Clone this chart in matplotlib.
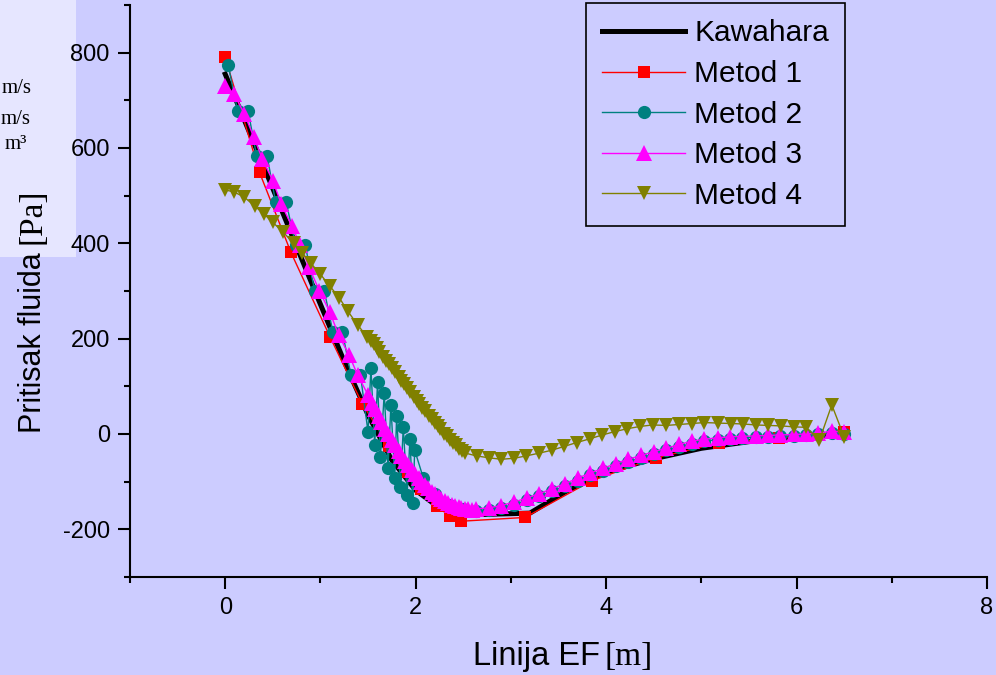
"""Pressure along line EF: Kawahara vs. four methods."""

import matplotlib
matplotlib.use("Agg")
import matplotlib.pyplot as plt
from matplotlib.patches import Rectangle
from matplotlib.ticker import MultipleLocator

plt.rcParams["axes.unicode_minus"] = False

BG = "#ccccff"
SANS = "Liberation Sans"
SERIF = "Liberation Serif"

# Kawahara reference solution
kaw_x = [0.0, 0.25, 0.5, 0.75, 1.0, 1.25, 1.5, 1.75, 2.0, 2.25, 2.5, 3.2,
         3.6, 4.0, 4.5, 5.0, 5.5, 6.0, 6.5]
kaw_y = [755, 635, 515, 393, 272, 152, 40, -55, -118, -155, -170, -166,
         -118, -80, -52, -30, -16, -7, 0]

# Metod 1
m1_x = [0.00, 0.36, 0.69, 1.10, 1.44, 1.72, 1.92, 2.06, 2.22, 2.36, 2.48,
        3.15, 3.85, 4.52, 5.19, 5.82, 6.50]
m1_y = [790, 549, 381, 204, 63, -25, -80, -115, -152, -172, -183,
        -175, -98, -50, -19, -8, 5]

# Metod 2
m2_x = [0.03, 0.13, 0.24, 0.33, 0.44, 0.53, 0.64, 0.74, 0.84, 0.94, 1.04,
        1.13, 1.23, 1.32, 1.42,
        1.50, 1.53, 1.57, 1.60, 1.63, 1.67, 1.71, 1.74, 1.78, 1.80, 1.84,
        1.87, 1.91, 1.94, 1.97, 1.99,
        2.08, 2.20, 2.35, 2.50,
        2.63, 2.77, 2.90, 3.03, 3.17, 3.30, 3.43, 3.57, 3.70, 3.83, 3.97,
        4.10, 4.23, 4.37, 4.50, 4.63, 4.77, 4.90, 5.03, 5.17, 5.30, 5.43,
        5.57, 5.70, 5.83, 5.97, 6.10, 6.23, 6.37, 6.50]
m2_y = [775, 678, 678, 583, 583, 486, 486, 396, 396, 301, 301,
        215, 215, 124, 124,
        4, 139, -23, 110, -48, 86, -72, 61, -93, 38, -112,
        15, -128, -10, -145, -34,
        -92, -125, -148, -158,
        -162, -160, -155, -148, -139, -130, -120, -109, -98, -87, -77,
        -67, -58, -50, -42, -34, -27, -20, -15, -12, -10, -8,
        -7, -6, -5, -4, -3, -1, 2, 1]

# Metod 3
m3_x = [0.00, 0.09, 0.20, 0.30, 0.39, 0.50, 0.59, 0.70, 0.79, 0.88, 0.99,
        1.10, 1.19, 1.30, 1.39, 1.50,
        1.54, 1.57, 1.61, 1.64, 1.68, 1.71, 1.75, 1.78, 1.82, 1.85, 1.89,
        1.92, 1.96, 1.99, 2.03, 2.06, 2.10, 2.13, 2.17, 2.20, 2.24, 2.27,
        2.31, 2.34, 2.38, 2.41, 2.45, 2.48, 2.52, 2.55, 2.59,
        2.63, 2.77, 2.90, 3.03, 3.17, 3.30, 3.43, 3.57, 3.70, 3.83, 3.97,
        4.10, 4.23, 4.37, 4.50, 4.63, 4.77, 4.90, 5.03, 5.17, 5.30, 5.43,
        5.57, 5.70, 5.83, 5.97, 6.10, 6.23, 6.37, 6.50]
m3_y = [731, 714, 672, 623, 577, 531, 482, 436, 396, 350, 300,
        255, 208, 166, 124, 82,
        66, 53, 38, 25, 11, -1, -13, -24, -36, -46, -57,
        -66, -76, -84, -93, -100, -108, -114, -121, -126, -132, -136,
        -141, -144, -148, -150, -153, -155, -157, -158, -159,
        -157, -155, -150, -143, -134, -125, -115, -104, -93, -82, -72,
        -62, -53, -45, -37, -30, -22, -15, -11, -8, -6, -5,
        -4, -3, -2, -1, 0, 2, 6, 4]

# Metod 4
m4_x = [0.00, 0.09, 0.20, 0.31, 0.41, 0.50, 0.61, 0.72, 0.81, 0.90, 1.00,
        1.10, 1.20, 1.29, 1.39, 1.49,
        1.53, 1.56, 1.59, 1.62, 1.66, 1.69, 1.72, 1.75, 1.78, 1.82, 1.85,
        1.88, 1.91, 1.94, 1.98, 2.01, 2.04, 2.07, 2.10, 2.14, 2.17, 2.20,
        2.23, 2.26, 2.30, 2.33, 2.36, 2.39, 2.42, 2.46, 2.49, 2.52,
        2.64, 2.77, 2.90, 3.03, 3.16, 3.30, 3.43, 3.56, 3.69, 3.83, 3.96,
        4.09, 4.22, 4.36, 4.49, 4.63, 4.77, 4.90, 5.03, 5.17, 5.31, 5.44,
        5.57, 5.70, 5.84, 5.97, 6.10, 6.24, 6.37, 6.50]
m4_y = [512, 508, 497, 478, 461, 444, 423, 400, 379, 358, 335,
        310, 285, 257, 229, 204,
        195, 188, 180, 172, 162, 154, 146, 138, 130, 120, 112,
        104, 96, 88, 78, 70, 62, 55, 48, 38, 31, 24,
        17, 10, 1, -5, -12, -18, -24, -31, -36, -40,
        -46, -50, -53, -51, -46, -40, -34, -26, -18, -10, -2,
        5, 11, 16, 19, 18, 20, 22, 24, 23, 22, 21,
        19, 18, 17, 15, 14, -13, 61, -6]

fig = plt.figure(figsize=(9.96, 6.75), dpi=100, facecolor=BG)
# lighter panel cut off at the top-left
fig.patches.append(Rectangle((0, 1 - 257 / 675), 76 / 996, 257 / 675,
                             transform=fig.transFigure, facecolor="#e6e6ff",
                             edgecolor="none", zorder=-5))
for txt, xr, yb in [("m/s", 32, 93), ("m/s", 31, 124), ("m\u00b3", 27, 149)]:
    fig.text(xr / 996, 1 - yb / 675, txt, ha="right", va="baseline",
             family=SERIF, fontsize=15)

ax = fig.add_axes([130 / 996, 1 - 577 / 675, 857 / 996, 572 / 675])
ax.set_facecolor(BG)

ax.plot(kaw_x, kaw_y, color="black", lw=3.6, label="Kawahara")
ax.plot(m1_x, m1_y, color="#ff0000", lw=1.0, marker="s", ms=9, mew=0,
        label="Metod 1")
ax.plot(m2_x, m2_y, color="#008080", lw=1.0, marker="o", ms=9.5, mew=0,
        label="Metod 2")
ax.plot(m3_x, m3_y, color="#ff00ff", lw=1.0, marker="^", ms=11, mew=0,
        label="Metod 3")
ax.plot(m4_x, m4_y, color="#808000", lw=1.0, marker="v", ms=10.5, mew=0,
        label="Metod 4")

ax.set_xlim(-1, 8)
ax.set_ylim(-300, 900)
ax.xaxis.set_major_locator(MultipleLocator(2))
ax.xaxis.set_minor_locator(MultipleLocator(1))
ax.yaxis.set_major_locator(MultipleLocator(200))
ax.yaxis.set_minor_locator(MultipleLocator(100))
for side in ("top", "right"):
    ax.spines[side].set_visible(False)
for side in ("left", "bottom"):
    ax.spines[side].set_linewidth(1.5)
ax.tick_params(which="major", length=8.5, width=1.5, labelsize=17, pad=6)
ax.tick_params(which="minor", length=4.5, width=1.5)
for lab in ax.get_xticklabels() + ax.get_yticklabels():
    lab.set_family(SANS)

leg = ax.legend(loc="upper left", bbox_to_anchor=(0.532, 1.0035),
                borderaxespad=0, prop={"family": SANS, "size": 21.5},
                numpoints=1, handlelength=2.78, handletextpad=0.3,
                labelspacing=0.42, borderpad=0.55, fancybox=False,
                framealpha=1, facecolor=BG, edgecolor="black")
leg.get_frame().set_linewidth(1.2)

# axis titles: sans words with serif unit brackets
fig.text(600 / 996, 1 - 665 / 675, "Linija EF", ha="right", va="baseline",
         family=SANS, fontsize=23.5)
fig.text(604 / 996, 1 - 665 / 675, "[m]", ha="left", va="baseline",
         family=SERIF, fontsize=24)
fig.text(41 / 996, 1 - 433 / 675, "Pritisak fluida", rotation=90,
         rotation_mode="anchor", ha="left", va="baseline",
         family=SANS, fontsize=22)
fig.text(41 / 996, 1 - 244 / 675, "[Pa]", rotation=90,
         rotation_mode="anchor", ha="left", va="baseline",
         family=SERIF, fontsize=24)

fig.savefig("out.png", dpi=100, facecolor=BG)
